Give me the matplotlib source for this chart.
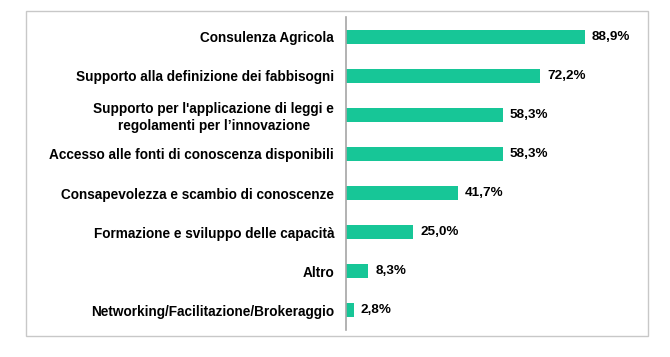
import matplotlib
matplotlib.use("Agg")
import matplotlib.pyplot as plt
from matplotlib.patches import Rectangle

categories = [
    "Consulenza Agricola",
    "Supporto alla definizione dei fabbisogni",
    "Supporto per l'applicazione di leggi e\nregolamenti per l’innovazione",
    "Accesso alle fonti di conoscenza disponibili",
    "Consapevolezza e scambio di conoscenze",
    "Formazione e sviluppo delle capacità",
    "Altro",
    "Networking/Facilitazione/Brokeraggio",
]
values = [88.9, 72.2, 58.3, 58.3, 41.7, 25.0, 8.3, 2.8]
value_labels = ["88,9%", "72,2%", "58,3%", "58,3%", "41,7%", "25,0%", "8,3%", "2,8%"]

plt.rcParams['font.family'] = ['Liberation Sans', 'DejaVu Sans']

fig = plt.figure(figsize=(6.70, 3.57), dpi=100)
W, H = 670, 357
# outer border
fig.patches.append(Rectangle((26 / W, 1 - 336 / H), (648 - 26) / W, (336 - 11) / H,
                             transform=fig.transFigure, fill=False,
                             edgecolor='#c8c8c8', linewidth=1.0))

ax = fig.add_axes([346 / W, 1 - 330 / H, (640 - 346) / W, (330 - 17) / H])
y = list(range(len(categories)))
ax.barh(y, values, height=0.36, color='#17C697')
ax.set_ylim(len(categories) - 0.5, -0.5)
ax.set_xlim(0, (640 - 346) / 2.69)
ax.set_yticks(y)
ax.set_yticklabels(categories, fontsize=9.8, fontweight='bold')
ax.tick_params(axis='y', length=0, pad=8.5)
for lbl in ax.get_yticklabels():
    lbl.set_multialignment('center')
    lbl.set_linespacing(1.25)
ax.set_xticks([])
for s in ['top', 'right', 'bottom']:
    ax.spines[s].set_visible(False)
ax.spines['left'].set_color('#a6a6a6')
ax.spines['left'].set_linewidth(1.2)

for yi, v, t in zip(y, values, value_labels):
    ax.annotate(t, (v, yi), xytext=(5, 0), textcoords='offset points',
                va='center', ha='left', fontsize=9.7, fontweight='bold')

fig.savefig('out.png', dpi=100)
